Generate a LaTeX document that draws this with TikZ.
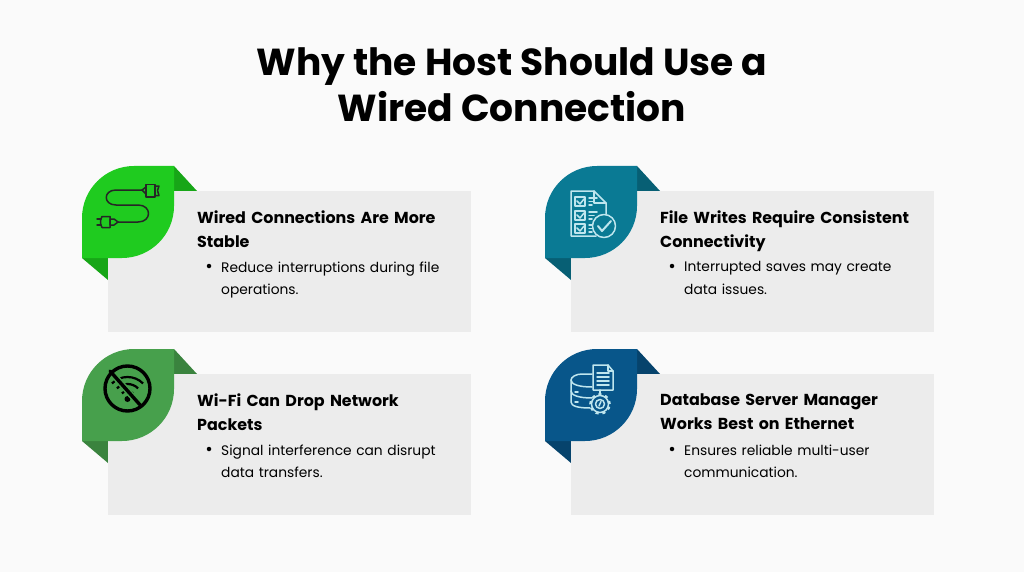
\documentclass[tikz,border=0pt]{standalone}
\usepackage{fontspec}
\setmainfont{Poppins}
\definecolor{bgc}{HTML}{FAFAFA}
\definecolor{cardc}{HTML}{ECECEC}
\definecolor{greenA}{HTML}{1FCB1F}\definecolor{greenAd}{HTML}{17A617}
\definecolor{greenB}{HTML}{47A04C}\definecolor{greenBd}{HTML}{3A833E}
\definecolor{tealA}{HTML}{0A7A94}\definecolor{tealAd}{HTML}{075F74}
\definecolor{blueA}{HTML}{08568A}\definecolor{blueAd}{HTML}{06436C}
\definecolor{iconl}{HTML}{BFE6EE}
\tikzset{
  x=1pt,y=-1pt,
  titletxt/.style={font=\fontsize{37.6}{46}\selectfont\bfseries,align=center,text=black,inner sep=0pt},
  headtxt/.style={font=\fontsize{15.9}{24}\selectfont\bfseries,align=left,anchor=north west,inner sep=0pt,text=black,text width=265pt},
  bodytxt/.style={font=\fontsize{13.8}{22.4}\selectfont,align=left,anchor=north west,inner sep=0pt,text=black,text width=240pt},
  bulletdot/.style={circle,fill=black,inner sep=0pt,minimum size=4.5pt},
  ico/.style={line width=1.5pt,line cap=round,line join=round},
}
\newcommand{\cardshape}[5]{%
  \begin{scope}[shift={(#1,#2)}]
    \fill[#4] (92,0) -- (115,25) -- (92,40) -- cycle;
    \fill[#4] (0,92) -- (26,114) -- (26,80) -- cycle;
    \fill[cardc] (26,25) rectangle (389,166);
    \fill[#3] (92,0) -- (52,0) .. controls (23.3,0) and (0,23.3) .. (0,52) -- (0,92) -- (40,92)
      .. controls (68.7,92) and (92,68.7) .. (92,40) -- cycle;
    \node[bulletdot] (#5dot) at (127,100) {};
  \end{scope}}
\begin{document}
\begin{tikzpicture}
\useasboundingbox (0,0) rectangle (1024,572);
\fill[bgc] (0,0) rectangle (1024,572);
\node[titletxt] (title) at (512,85) {Why the Host Should Use a\\Wired Connection};

\cardshape{82}{166}{greenA}{greenAd}{a}
\cardshape{545}{166}{tealA}{tealAd}{b}
\cardshape{82}{349}{greenB}{greenBd}{c}
\cardshape{545}{349}{blueA}{blueAd}{d}

\node[headtxt] (ah) at (197,211) {Wired Connections Are More\\Stable};
\node[bodytxt] (ab) at (221,261.5) {Reduce interruptions during file\\operations.};
\node[headtxt] (bh) at (660,211) {File Writes Require Consistent\\Connectivity};
\node[bodytxt] (bb) at (684,261.5) {Interrupted saves may create\\data issues.};
\node[headtxt] (ch) at (197,394) {Wi-Fi Can Drop Network\\Packets};
\node[bodytxt] (cb) at (221,444.5) {Signal interference can disrupt\\data transfers.};
\node[headtxt] (dh) at (660,394) {Database Server Manager\\Works Best on Ethernet};
\node[bodytxt] (db) at (684,444.5) {Ensures reliable multi-user\\communication.};

% plug icon
\begin{scope}[ico,draw=black!85]
  \draw (142,190) -- (116,190) .. controls (103,190) and (103,205) .. (116,205)
    -- (138,205) .. controls (152,205) and (152,222) .. (138,222) -- (118,222);
  \draw (118,222) -- (114,219) -- (110,219) -- (110,225) -- (114,225) -- cycle;
  \draw (110,216.5) -- (102,216.5) .. controls (100,220) and (100,224) .. (102,227.5) -- (110,227.5) -- cycle;
  \draw (101,219) -- (97,219) (101,225) -- (97,225);
  \draw (142,190) -- (146,187) -- (146,194) -- cycle;
  \draw (146,184.5) rectangle (155,197);
  \draw (155,186) -- (159,186) -- (157.5,190.5) -- (159,195.5) -- (155,195.5);
\end{scope}

% checklist icon
\begin{scope}[ico,draw=iconl]
  \draw (606,214) -- (606,203) -- (594,191) -- (571,191) -- (571,236) -- (596,236);
  \draw (594,191) -- (594,203) -- (606,203);
  \foreach \yy in {197,211,224} {
    \draw (575,\yy) rectangle (585,\yy+9);
    \draw (577,\yy+4) -- (580,\yy+7) -- (584,\yy+2);
    \draw (589,\yy+1) -- (597,\yy+1) (589,\yy+4.5) -- (594,\yy+4.5) (589,\yy+8) -- (592,\yy+8);
  }
  \draw[fill=tealA] (604,226) circle (11.5pt);
  \draw[line width=2pt] (598,226) -- (602,231) -- (611,221);
\end{scope}

% no-wifi icon
\begin{scope}[line cap=round,draw=black]
  \fill[black] (127.5,399) circle (3pt);
  \draw[line width=2.2pt,line cap=butt] (127.5,399) ++(135:22pt) arc[start angle=135,end angle=45,radius=22pt];
  \draw[line width=2.2pt,line cap=butt] (127.5,399) ++(135:15pt) arc[start angle=135,end angle=45,radius=15pt];
  \draw[line width=2.2pt,line cap=butt] (127.5,399) ++(135:8pt) arc[start angle=135,end angle=45,radius=8pt];
  \draw[line width=6.5pt,draw=greenB] (110,371) -- (141,406);
  \draw[line width=3.4pt] (127.5,388.5) circle (22.5pt);
  \draw[line width=3.4pt] (110,371) -- (141,406);
\end{scope}

% database icon
\begin{scope}[ico,draw=iconl]
  \draw (592,374) -- (582,374) .. controls (576,374) and (571,377) .. (571,380)
    .. controls (571,384) and (578,387) .. (592,387);
  \draw (571,380) -- (571,402) .. controls (571,406) and (578,408) .. (590,408);
  \draw (571,391) .. controls (571,395) and (578,398) .. (592,398);
  \draw (575,392) -- (578,392) (575,402) -- (578,402);
  \draw[fill=blueA] (593,365) -- (608,365) -- (613,371) -- (613,390) -- (593,390) -- cycle;
  \draw (608,365) -- (608,371) -- (613,371);
  \draw (597,373) -- (609,373) (597,377) -- (609,377) (597,381) -- (609,381) (597,385) -- (609,385);
  \draw (600,390) -- (600,395);
  \draw[fill=blueA] (600,404) circle (8.5pt);
  \draw[dash pattern=on 3pt off 3.7pt,line width=2.6pt,line cap=butt] (600,404) circle (9.5pt);
  \draw (600,404) circle (4.5pt);
  \draw (601,401.5) -- (599,406);
\end{scope}
\end{tikzpicture}
\end{document}
